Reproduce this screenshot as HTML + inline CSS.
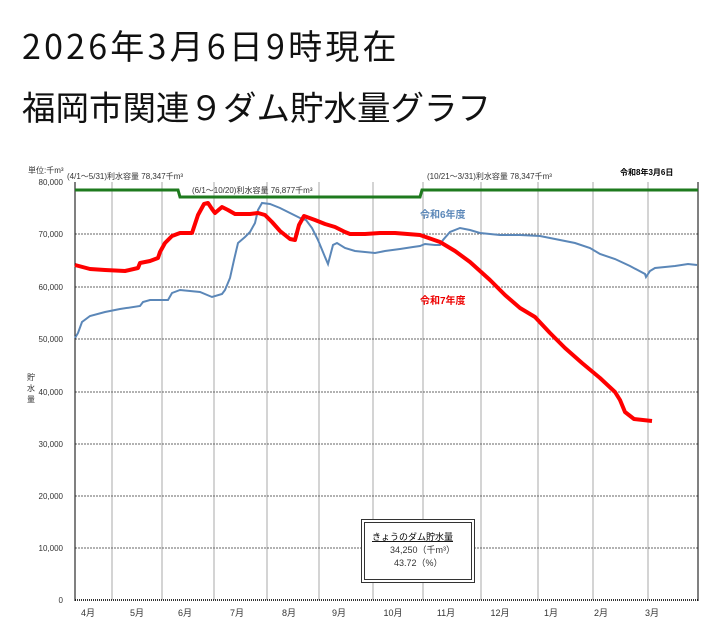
<!DOCTYPE html>
<html><head><meta charset="utf-8"><style>
html,body{margin:0;padding:0;background:#fff;width:727px;height:637px;overflow:hidden}
.t{position:absolute;left:22px;font-family:"Noto Sans CJK JP",sans-serif;color:#111;white-space:nowrap;line-height:1}
</style></head><body>
<div class="t" style="top:28px;font-size:34px;letter-spacing:3.2px;">2026年3月6日9時現在</div>
<div class="t" style="top:89px;font-size:33.5px;">福岡市関連９ダム貯水量グラフ</div>
<svg width="727" height="637" style="position:absolute;left:0;top:0" font-family="Liberation Sans, Noto Sans CJK JP, sans-serif">
<g stroke="#aaa" stroke-width="1">
<line x1="112" y1="182" x2="112" y2="600"/><line x1="162" y1="182" x2="162" y2="600"/><line x1="214" y1="182" x2="214" y2="600"/><line x1="267" y1="182" x2="267" y2="600"/><line x1="319" y1="182" x2="319" y2="600"/><line x1="373" y1="182" x2="373" y2="600"/><line x1="423" y1="182" x2="423" y2="600"/><line x1="481" y1="182" x2="481" y2="600"/><line x1="538" y1="182" x2="538" y2="600"/><line x1="593" y1="182" x2="593" y2="600"/><line x1="648" y1="182" x2="648" y2="600"/>
</g>
<g stroke="#666" stroke-width="1" stroke-dasharray="2,1">
<line x1="75" y1="234" x2="698" y2="234"/><line x1="75" y1="287" x2="698" y2="287"/><line x1="75" y1="339" x2="698" y2="339"/><line x1="75" y1="392" x2="698" y2="392"/><line x1="75" y1="444" x2="698" y2="444"/><line x1="75" y1="496" x2="698" y2="496"/><line x1="75" y1="548" x2="698" y2="548"/>
</g>
<line x1="75" y1="600" x2="698" y2="600" stroke="#333" stroke-width="2" stroke-dasharray="1,1"/>
<line x1="75" y1="182" x2="75" y2="601" stroke="#000" stroke-width="1"/>
<line x1="698" y1="182" x2="698" y2="601" stroke="#000" stroke-width="1"/>
<polyline fill="none" stroke="#1e7a1e" stroke-width="3" points="75,190 178,190 180,197 420,197 422,190 698,190"/>
<polyline fill="none" stroke="#5b87b8" stroke-width="2" points="75,338 78,333 82,322 90,316 105,312 120,309 140,306 143,302 150,300 168,300 172,293 180,290 200,292 212,297 222,294 225,290 230,278 234,260 238,243 245,237 250,232 255,223 258,210 262,203 270,204 280,208 290,213 300,218 306,220 312,228 318,240 325,257 328,264 333,245 337,243 345,248 355,251 365,252 375,253 385,251 400,249 413,247 420,246 425,244 435,245 440,245 443,240 450,232 460,228 470,230 480,233 500,235 520,235 540,236 555,239 575,243 590,248 600,254 615,259 630,266 645,274 646,277 650,271 655,268 665,267 675,266 688,264 697,265"/>
<polyline fill="none" stroke="#f00" stroke-width="4" stroke-linejoin="round" points="75,265 90,269 105,270 125,271 138,268 140,263 150,261 158,258 160,252 165,243 172,236 180,233 192,233 198,215 204,204 208,203 212,209 215,213 222,207 228,210 235,214 250,214 258,213 265,215 272,222 280,231 290,239 295,240 299,225 304,216 315,220 325,224 335,227 345,232 350,234 365,234 380,233 395,233 420,235 440,242 455,251 470,262 490,280 505,295 520,308 535,317 550,333 565,348 582,363 600,378 615,392 620,400 625,412 634,419 652,421"/>
<g font-size="8" fill="#333" text-anchor="end">
<text x="63" y="185">80,000</text><text x="63" y="237">70,000</text><text x="63" y="290">60,000</text><text x="63" y="342">50,000</text><text x="63" y="395">40,000</text><text x="63" y="447">30,000</text><text x="63" y="499">20,000</text><text x="63" y="551">10,000</text><text x="63" y="603">0</text>
</g>
<g font-size="8" fill="#333">
<text x="27" y="380">貯</text><text x="27" y="391">水</text><text x="27" y="402">量</text>
<text x="28" y="173">単位:千m³</text>
<text x="67" y="179">(4/1～5/31)利水容量  78,347千m³</text>
<text x="192" y="193">(6/1～10/20)利水容量  76,877千m³</text>
<text x="427" y="179">(10/21～3/31)利水容量  78,347千m³</text>
<text x="620" y="175" font-weight="bold" fill="#000">令和8年3月6日</text>
</g>
<g font-size="9" fill="#333" text-anchor="middle">
<text x="88" y="616">4月</text><text x="137" y="616">5月</text><text x="185" y="616">6月</text><text x="237" y="616">7月</text><text x="289" y="616">8月</text><text x="339" y="616">9月</text><text x="393" y="616">10月</text><text x="446" y="616">11月</text><text x="500" y="616">12月</text><text x="551" y="616">1月</text><text x="601" y="616">2月</text><text x="652" y="616">3月</text>
</g>
<text x="420" y="218" font-size="10" font-weight="bold" fill="#5b87b8">令和6年度</text>
<text x="420" y="304" font-size="10" font-weight="bold" fill="#e00">令和7年度</text>
<rect x="361.5" y="519.5" width="113" height="63" fill="#fff" stroke="#333"/>
<rect x="364.5" y="522.5" width="107" height="57" fill="#fff" stroke="#333"/>
<text x="372" y="540" font-size="9" fill="#000" text-decoration="underline">きょうのダム貯水量</text>
<text x="390" y="553" font-size="9" fill="#333">34,250（千m³）</text>
<text x="394" y="566" font-size="9" fill="#333">43.72（%）</text>
</svg>
</body></html>
